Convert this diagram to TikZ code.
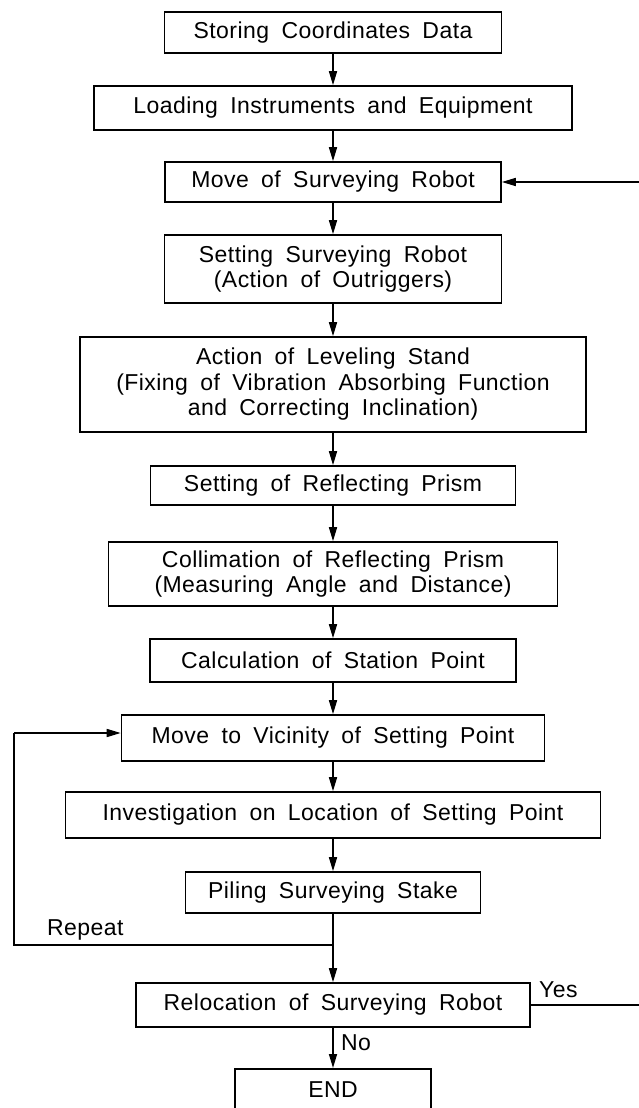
\documentclass[tikz,border=0pt]{standalone}
\usepackage{fontspec}
\setmainfont{Liberation Sans}[WordSpace=1.8,LetterSpace=2]
\usetikzlibrary{arrows.meta}
\begin{document}
\begin{tikzpicture}[x=1pt,y=-1pt,
  box/.style={draw, line width=1.6pt, inner sep=0pt, align=center,
    font=\fontsize{23}{25.5}\selectfont},
  arr/.style={line width=1.6pt, -{Triangle[length=14pt,width=8pt]}},
  ln/.style={line width=1.6pt},
  lbl/.style={font=\fontsize{23}{25}\selectfont, inner sep=0pt}]
\useasboundingbox (0,0) rectangle (638,1108);
\node[box, minimum width=337pt, minimum height=41pt] (b1) at (333,32.5) {Storing Coordinates Data};
\node[box, minimum width=478pt, minimum height=44pt] (b2) at (333,108) {Loading Instruments and Equipment};
\node[box, minimum width=336pt, minimum height=40pt] (b3) at (333,182) {Move of Surveying Robot};
\node[box, minimum width=337pt, minimum height=68pt] (b4) at (333,269) {Setting Surveying Robot\\(Action of Outriggers)};
\node[box, minimum width=506pt, minimum height=95pt] (b5) at (333,384.5) {Action of Leveling Stand\\(Fixing of Vibration Absorbing Function\\and Correcting Inclination)};
\node[box, minimum width=365pt, minimum height=39pt] (b6) at (333,485.5) {Setting of Reflecting Prism};
\node[box, minimum width=449pt, minimum height=64pt] (b7) at (333,574) {Collimation of Reflecting Prism\\(Measuring Angle and Distance)};
\node[box, minimum width=366pt, minimum height=43pt] (b8) at (333,660.5) {Calculation of Station Point};
\node[box, minimum width=423pt, minimum height=46pt] (b9) at (333,738) {Move to Vicinity of Setting Point};
\node[box, minimum width=535pt, minimum height=46pt] (b10) at (333,815) {Investigation on Location of Setting Point};
\node[box, minimum width=295pt, minimum height=41pt] (b11) at (333,892.5) {Piling Surveying Stake};
\node[box, minimum width=394pt, minimum height=44pt] (b12) at (333,1005) {Relocation of Surveying Robot};
\node[box, minimum width=196pt, minimum height=80pt, anchor=north] (b13) at (333,1068) {};
\node[lbl, anchor=base] (endt) at (333,1097) {END};
\draw[arr] (b1) -- (b2);
\draw[arr] (b2) -- (b3);
\draw[arr] (b3) -- (b4);
\draw[arr] (b4) -- (b5);
\draw[arr] (b5) -- (b6);
\draw[arr] (b6) -- (b7);
\draw[arr] (b7) -- (b8);
\draw[arr] (b8) -- (b9);
\draw[arr] (b9) -- (b10);
\draw[arr] (b10) -- (b11);
\draw[arr] (b11) -- (b12);
\draw[arr] (b12) -- (b13);
\coordinate (join) at (333,945);
\coordinate (lb) at (14,945);
\coordinate (lt) at (14,733);
\draw[ln] (join) -- (lb) -- (lt);
\draw[arr] (lt) -- (b9.west |- lt);
\coordinate (rb) at (660,1005);
\coordinate (rt) at (660,182);
\draw[ln] (b12.east) -- (rb) -- (rt);
\draw[arr] (rt) -- (b3.east);
\node[lbl, anchor=base west] (rep) at (47,935) {Repeat};
\node[lbl, anchor=base west] (yes) at (539,997) {Yes};
\node[lbl, anchor=base west] (no) at (341,1050) {No};
\end{tikzpicture}
\end{document}
